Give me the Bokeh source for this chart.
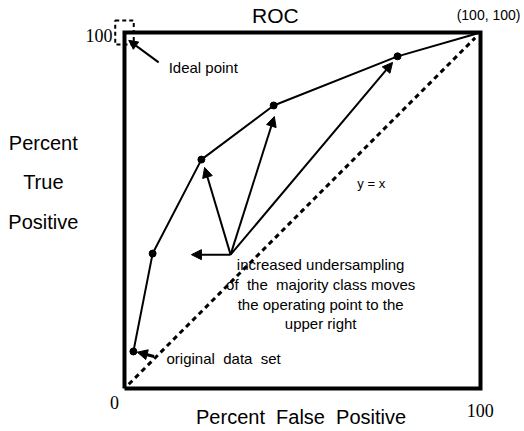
from bokeh.plotting import figure
from bokeh.models import Arrow, NormalHead, Label, Range1d, ColumnDataSource
from bokeh.embed import file_html
from bokeh.resources import INLINE

# ROC operating points (percent false positive, percent true positive)
fpr = [2.5, 7.9, 21.6, 41.9, 76.7, 100]
tpr = [10.4, 37.9, 64.3, 79.5, 93.3, 100]
dot_fpr = fpr[:-1]
dot_tpr = tpr[:-1]

# undersampling arrows: common origin, targets near the operating points
arrow_origin = (29.8, 37.6)
arrow_tx = [18.8, 22.5, 42.1, 75.3]
arrow_ty = [37.6, 62.1, 76.4, 91.6]

ideal_point = (0, 100)
axis_min, axis_max = 0, 100

NB = "\u00a0"
note_lines = ["increased undersampling", "of" + NB + " the" + NB + NB + "majority class moves",
              "the operating point to the", "upper right"]

W, H = 524, 431
sans = "Liberation Sans"
serif = "Liberation Serif"

p = figure(width=W, height=H, output_backend="svg", toolbar_location=None,
           title=None, x_range=Range1d(-34.83, 112.36), y_range=Range1d(-12.08, 108.99),
           min_border=0, min_border_left=0, min_border_right=0,
           min_border_top=0, min_border_bottom=0)
p.axis.visible = False
p.grid.visible = False
p.outline_line_color = None
p.background_fill_color = "white"
p.border_fill_color = "white"

# frame box
p.line([axis_min, axis_max, axis_max, axis_min, axis_min],
       [axis_min, axis_min, axis_max, axis_max, axis_min],
       line_color="black", line_width=4, line_join="miter")

# diagonal y = x
p.line([1.2, 98.5], [1.2, 98.5], line_color="black", line_width=3, line_dash="5 4")

# ROC curve
p.line(fpr, tpr, line_color="black", line_width=2)
p.scatter(dot_fpr, dot_tpr, size=7, color="black")

# dashed box around ideal point
p.quad(left=[ideal_point[0] - 2.6], right=[ideal_point[0] + 2.6],
       bottom=[ideal_point[1] - 3.4], top=[ideal_point[1] + 3.4],
       fill_color=None, line_color="black", line_width=2, line_dash="4 3")

src = ColumnDataSource(dict(xs=[arrow_origin[0]] * len(arrow_tx), ys=[arrow_origin[1]] * len(arrow_ty),
                            xe=arrow_tx, ye=arrow_ty))
p.add_layout(Arrow(end=NormalHead(size=10, fill_color="black", line_color="black"),
                   x_start="xs", y_start="ys", x_end="xe", y_end="ye", source=src,
                   line_color="black", line_width=2))

# ideal point arrow
p.add_layout(Arrow(end=NormalHead(size=9, fill_color="black", line_color="black"),
                   x_start=9.6, y_start=91.6, x_end=1.2, y_end=97.8,
                   line_color="black", line_width=2))
# original data set arrow
p.add_layout(Arrow(end=NormalHead(size=10, fill_color="black", line_color="black"),
                   x_start=8.3, y_start=9.0, x_end=3.6, y_end=10.2,
                   line_color="black", line_width=3))

def lab(x, y, t, size, font=sans, align="left"):
    p.add_layout(Label(x=x, y=y, text=t, text_font=font, text_font_size=size,
                       text_align=align, text_baseline="middle", text_color="black"))

lab(42.4, 104.8, "ROC", "21px", align="center")
lab(93.3, 105.0, "(100, 100)", "14px")
lab(12.4, 90.2, "Ideal point", "15px")
lab(11.8, 8.4, "original" + NB + " data" + NB + " set", "15px")
lab(65.4, 57.6, "y = x", "13px")
for i, t in enumerate(note_lines):
    lab(55.1, 34.8 - 5.55 * i, t, "15px", align="center")

lab(-3.4, 99.2, "100", "18px", font=serif, align="right")
lab(-2.8, -3.9, "0", "18px", font=serif, align="center")
lab(99.9, -6.2, "100", "18px", font=serif, align="center")

lab(49.6, -7.9, "Percent" + NB + " False" + NB + " Positive", "20px", align="center")
lab(-22.8, 69.1, "Percent", "20px", align="center")
lab(-22.8, 58.1, "True", "20px", align="center")
lab(-22.8, 46.9, "Positive", "20px", align="center")

open("out.html", "w").write(file_html(p, INLINE))
